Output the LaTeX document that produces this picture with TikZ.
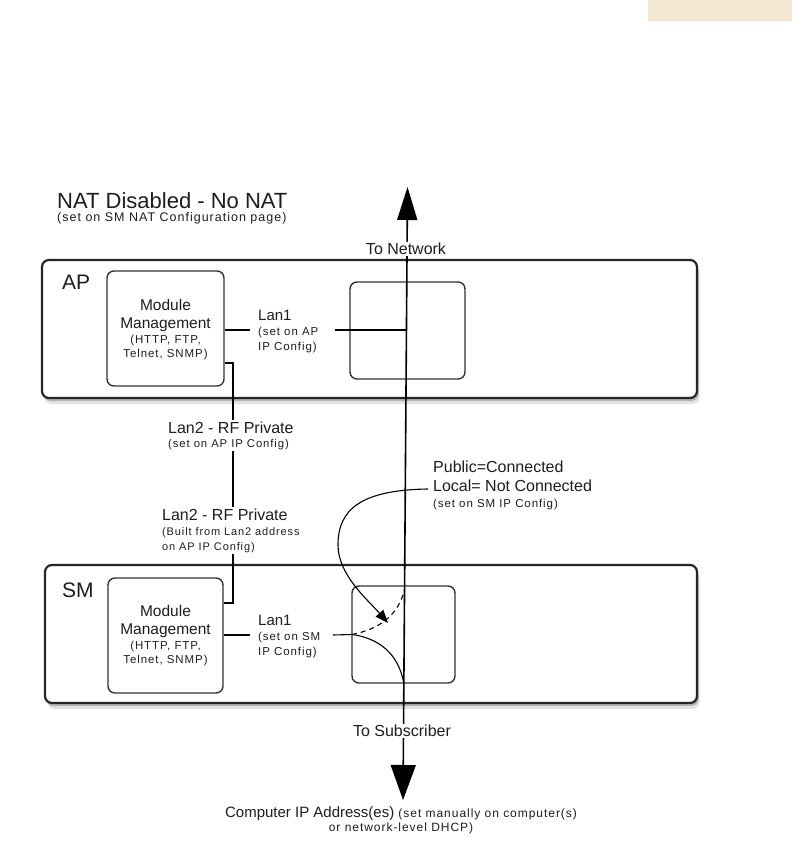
\documentclass[tikz,border=0pt]{standalone}
\usepackage{fontspec}
\setmainfont{Liberation Sans}
\newfontfamily\lsans[LetterSpace=8]{Liberation Sans}
\usetikzlibrary{shadows,arrows.meta}
\definecolor{ink}{HTML}{1E1E1E}
\definecolor{beige}{HTML}{F4E8D2}
\newcommand{\fs}[1]{\fontsize{#1}{15}\selectfont}
\newcommand{\smf}[1]{\lsans\fontsize{#1}{15}\selectfont}
\begin{document}
\begin{tikzpicture}[x=1pt,y=-1pt,
  every node/.append style={text=ink},
  outerbox/.style={draw=black!85, line width=2.2pt, fill=white, rounded corners=7pt,
    drop shadow={shadow xshift=1.5pt, shadow yshift=-3pt, opacity=.45},
    drop shadow={shadow xshift=2.5pt, shadow yshift=-6pt, opacity=.22}},
  innerbox/.style={draw=black!80, line width=1.4pt, rounded corners=7pt, fill=white},
  lbl/.style={fill=white, inner sep=1.5pt, align=left, anchor=north west, font={\fontsize{11}{15}\selectfont}},
  mmtext/.style={inner sep=0pt, align=center, anchor=north, font={\fontsize{11}{15}\selectfont}},
  wire/.style={draw=black, line width=1.1pt}
]
\useasboundingbox (0,0) rectangle (792,848);
\fill[white] (0,0) rectangle (792,848);
\node[fill=beige, minimum width=144pt, minimum height=21pt, inner sep=0, anchor=north west] (tag) at (648,0) {};

% title
\node[anchor=base west, inner sep=0, font={\fs{22}}] (title) at (57,208) {NAT Disabled - No NAT};
\node[anchor=base west, inner sep=0] (subtitle) at (57,221) {\smf{12.5}(set on SM NAT Configuration page)};

% outer boxes
\node[outerbox, minimum width=655pt, minimum height=138pt] (ap) at (369.5,329) {};
\node[outerbox, minimum width=652pt, minimum height=138pt] (sm) at (371,634) {};
\node[anchor=base west, inner sep=0, font={\fs{21}}] (aplabel) at (62,289) {AP};
\node[anchor=base west, inner sep=0, font={\fs{21}}] (smlabel) at (62,597) {SM};

% inner boxes
\node[innerbox, minimum width=117pt, minimum height=115pt] (apmm) at (165.5,328.5) {};
\node[innerbox, minimum width=115pt, minimum height=115pt] (smmm) at (165.5,635.5) {};
\node[innerbox, minimum width=115pt, minimum height=97pt] (apin) at (407.5,330.5) {};
\node[innerbox, minimum width=103pt, minimum height=97pt] (smin) at (403.5,634.5) {};

% module management texts
\node[mmtext] (apmmt) at (165.5,299) {\fs{15.5}Module\\[3pt]\fs{15.5}Management\\\smf{11.5}(HTTP, FTP,\\[-1pt]\smf{11.5}Telnet, SNMP)};
\node[mmtext] (smmmt) at (165.5,605) {\fs{15.5}Module\\[3pt]\fs{15.5}Management\\\smf{11.5}(HTTP, FTP,\\[-1pt]\smf{11.5}Telnet, SNMP)};

% coordinates
\coordinate (nettop) at (407.5,187);
\coordinate (subbot) at (403,800);
\coordinate (aplanA) at (250,330);
\coordinate (aplanB) at (335,330);
\coordinate (aplanend) at (406.4,330);
\coordinate (smlanA) at (250,635);
\coordinate (smlanB) at (333,635);
\coordinate (sw) at (352,634.5);
\coordinate (smlow) at (403.9,684);
\coordinate (smhigh) at (404.5,590);
\coordinate (pubstart) at (428,489);
\coordinate (tip) at (388,623);
\coordinate (lantwo) at (233,363);
\coordinate (lantwob) at (233,603);

% main vertical line
\draw[wire, line width=1.6pt, {Triangle[length=33pt,width=20pt]}-{Triangle[length=35pt,width=25pt]}] (nettop) -- (subbot);

% Lan1 AP
\draw[wire] (apmm.east |- aplanA) -- (aplanA);
\draw[wire] (aplanB) -- (aplanend);
% Lan2
\draw[wire] (apmm.east |- lantwo) -- (lantwo) -- (lantwob) -- (smmm.east |- lantwob);
% SM Lan1
\draw[wire] (smmm.east |- smlanA) -- (smlanA);
\draw[wire] (smlanB) -- (sw) .. controls (385,639) and (400,660) .. (smlow);
\draw[wire, dash pattern=on 5pt off 4pt] (sw) .. controls (380,629) and (398,615) .. (smhigh);
% curved arrow
\draw[wire, -{Triangle[length=13pt,width=10pt]}] (pubstart) .. controls (360,490) and (338,510) .. (338,545) .. controls (338,575) and (368,600) .. (tip);

% labels
\node[fill=white, inner sep=1.5pt, font={\fs{16}}] (tonet) at (406,249) {To Network};
\node[fill=white, inner sep=1.5pt, font={\fs{16}}] (tosub) at (402,731) {To Subscriber};
\node[lbl] (aplan1) at (256.5,308) {\fs{15}Lan1\\\smf{11.5}(set on AP\\\smf{11.5}IP Config)};
\node[lbl] (smlan1) at (256.5,613) {\fs{15}Lan1\\\smf{11.5}(set on SM\\\smf{11.5}IP Config)};
\node[lbl] (lan2a) at (166.5,420) {\fs{16}Lan2 - RF Private\\[-1pt]\smf{11.3}(set on AP IP Config)};
\node[lbl] (lan2b) at (160.5,507) {\fs{16}Lan2 - RF Private\\\smf{11}(Built from Lan2 address\\\smf{11}on AP IP Config)};
\node[lbl] (pub) at (431.5,459) {\fs{16}Public=Connected\\[4pt]\fs{16}Local= Not Connected\\[1pt]\smf{11.5}(set on SM IP Config)};
\node[inner sep=0pt, align=center, anchor=north, font={\fontsize{11}{15}\selectfont}] (comp) at (401,806) {\fs{15}Computer IP Address(es) \smf{12}(set manually on computer(s)\\[-1pt]\smf{12}or network-level DHCP)};
\end{tikzpicture}
\end{document}
